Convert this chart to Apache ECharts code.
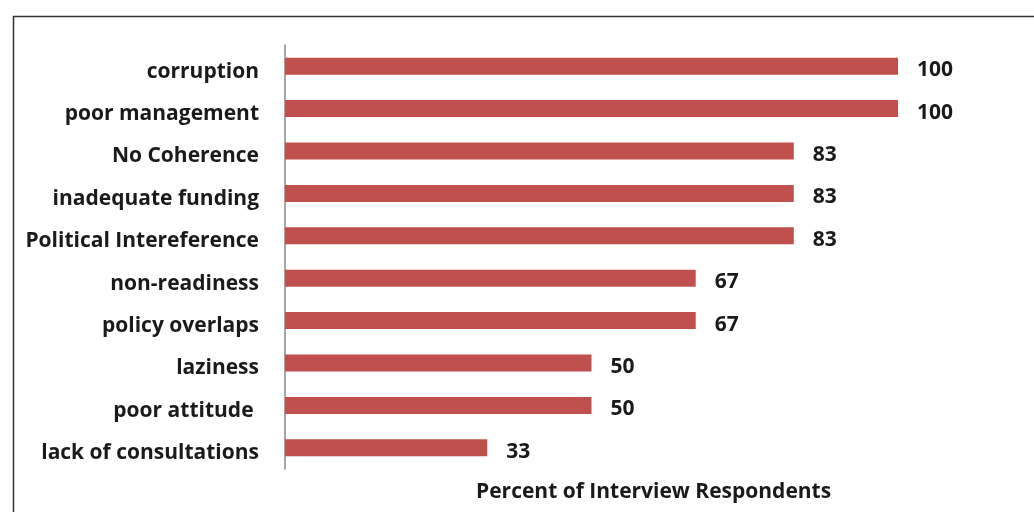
<!DOCTYPE html>
<html>
<head>
<meta charset="utf-8">
<script src="https://cdn.jsdelivr.net/npm/echarts@6/dist/echarts.min.js"></script>
<style>
  html, body { margin: 0; padding: 0; background: #fff; }
  #chart { width: 1034px; height: 512px; }
</style>
</head>
<body>
<div id="chart"></div>
<script>
// categories top to bottom as shown
var categories = ['corruption', 'poor management', 'No Coherence', 'inadequate funding',
  'Political Intereference', 'non-readiness', 'policy overlaps', 'laziness',
  'poor attitude ', 'lack of consultations'];
var values = [100, 100, 83, 83, 83, 67, 67, 50, 50, 33];
var axisTitle = 'Percent of Interview Respondents';

var myChart = echarts.init(document.getElementById('chart'));

var font = 'Open Sans';

var option = {
  animation: false,
  backgroundColor: '#fff',
  title: {
    text: axisTitle,
    left: 471,
    top: 477,
    textStyle: { fontFamily: font, fontSize: 21, fontWeight: 'bold', color: '#1a1a1a' }
  },
  graphic: [{
    // outer frame
    type: 'rect',
    shape: { x: 13.5, y: 16.5, width: 1100, height: 600 },
    style: { fill: 'none', stroke: '#333', lineWidth: 1.5 },
    silent: true
  }],
  grid: {
    left: 285,
    right: 136,
    top: 45,
    bottom: 43
  },
  xAxis: {
    type: 'value',
    min: 0,
    max: 100,
    show: false
  },
  yAxis: {
    type: 'category',
    data: categories,
    inverse: true,
    axisLine: { show: true, lineStyle: { color: '#888', width: 1.5 } },
    axisTick: { show: false },
    axisLabel: {
      margin: 26,
      verticalAlign: 'top',
      padding: [-5, 0, 0, 0],
      fontFamily: font,
      fontSize: 21,
      fontWeight: 'bold',
      color: '#1a1a1a'
    }
  },
  series: [{
    type: 'bar',
    data: values,
    barWidth: 17,
    itemStyle: { color: '#c0504d' },
    label: {
      show: true,
      position: 'right',
      distance: 19,
      offset: [0, 4],
      fontFamily: font,
      fontSize: 21,
      fontWeight: 'bold',
      color: '#1a1a1a'
    }
  }]
};

myChart.setOption(option);

window.addEventListener('resize', function () {
  myChart.resize();
});
</script>
</body>
</html>
